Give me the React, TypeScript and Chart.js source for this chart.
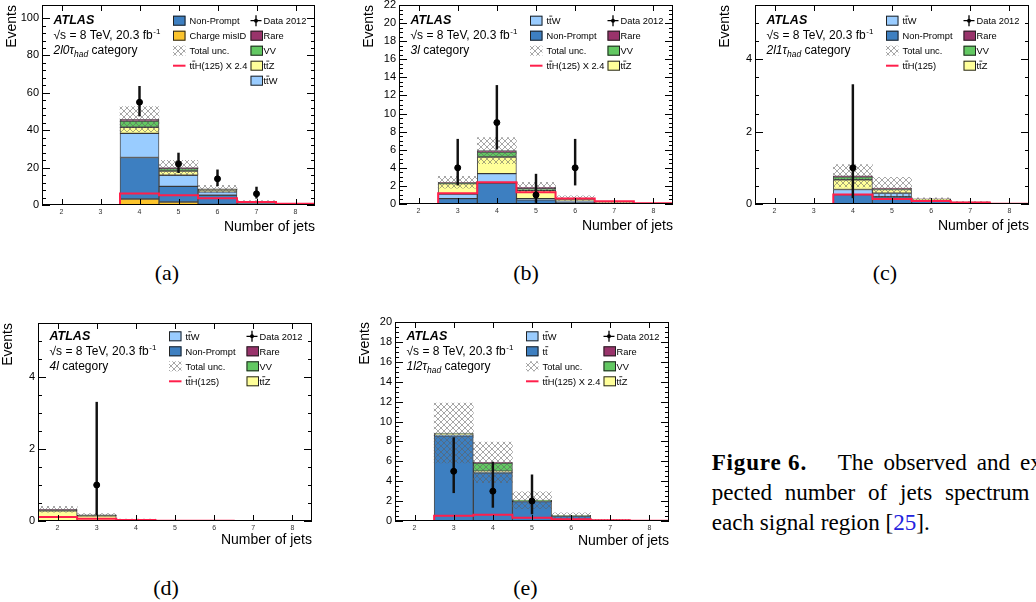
import React, { useEffect, useRef } from 'react';
import { Chart, registerables } from 'chart.js';

Chart.register(...registerables);

// ---------------- DATA ----------------
const BINS = ['2', '3', '4', '5', '6', '7', '8'];

// (a) 2l0tau_had
const aMisID = [0, 0, 3.2, 1.6, 0.3, 0.05, 0.02];
const aNonPrompt = [0, 0, 22.2, 8.4, 4.9, 1.0, 0.3];
const aTtW = [0, 0, 12.9, 5.9, 1.8, 0.4, 0.1];
const aTtZ = [0, 0, 3.3, 2.3, 0.9, 0.2, 0.05];
const aVV = [0, 0, 3.3, 1.3, 0.3, 0.1, 0.03];
const aRare = [0, 0, 1.0, 0.5, 0.4, 0.1, 0.03];
const aUnc = [0, 0, 6.7, 3.9, 1.9, 0.5, 0.2];
const aTtH = [0, 0, 6.1, 5.2, 3.6, 1.6, 0.7];
const aData = [0, 0, 55, 22, 14, 6, 0];
const aDataLo = [0, 0, 47.6, 17.3, 10.3, 3.6, 0];
const aDataHi = [0, 0, 63.5, 27.8, 18.8, 9.6, 0];

// (b) 3l
const bNonPrompt = [0, 0.6, 2.3, 0.45, 0.2, 0.05, 0.01];
const bTtW = [0, 0.5, 1.05, 0.15, 0.1, 0.03, 0.01];
const bTtZ = [0, 1.15, 1.85, 0.9, 0.25, 0.1, 0.02];
const bVV = [0, 0.1, 0.55, 0.2, 0.05, 0.02, 0.005];
const bRare = [0, 0.05, 0.15, 0.15, 0.05, 0.02, 0.005];
const bUnc = [0, 0.65, 1.45, 0.55, 0.25, 0.08, 0.02];
const bTtH = [0, 1.2, 2.4, 1.3, 0.6, 0.3, 0.07];
const bData = [0, 4, 9, 1, 4, 0, 0];
const bDataLo = [0, 2.09, 6.06, 0.17, 2.09, 0, 0];
const bDataHi = [0, 7.16, 13.11, 3.3, 7.16, 0, 0];

// (c) 2l1tau_had
const cNonPrompt = [0, 0, 0.26, 0.2, 0.08, 0.03, 0.005];
const cTtW = [0, 0, 0.14, 0.1, 0.03, 0.01, 0.003];
const cTtZ = [0, 0, 0.27, 0.1, 0.02, 0.01, 0.002];
const cVV = [0, 0, 0.08, 0.02, 0.005, 0.003, 0];
const cRare = [0, 0, 0.03, 0.02, 0.005, 0.003, 0];
const cUnc = [0, 0, 0.31, 0.3, 0.03, 0.01, 0];
const cTtH = [0, 0, 0.26, 0.14, 0.08, 0.04, 0.01];
const cData = [0, 0, 1, 0, 0, 0, 0];
const cDataLo = [0, 0, 0.17, 0, 0, 0, 0];
const cDataHi = [0, 0, 3.3, 0, 0, 0, 0];

// (d) 4l
const dNonPrompt = [0.005, 0.003, 0.001, 0, 0, 0, 0];
const dTtW = [0.005, 0.002, 0, 0, 0, 0, 0];
const dTtZ = [0.27, 0.14, 0.03, 0.008, 0.003, 0.001, 0];
const dVV = [0.005, 0.003, 0.001, 0, 0, 0, 0];
const dRare = [0.04, 0.025, 0.01, 0.003, 0.002, 0.001, 0];
const dUnc = [0.08, 0.03, 0.01, 0.003, 0, 0, 0];
const dTtH = [0.11, 0.065, 0.03, 0.01, 0.005, 0.002, 0.001];
const dData = [0, 1, 0, 0, 0, 0, 0];
const dDataLo = [0, 0.17, 0, 0, 0, 0, 0];
const dDataHi = [0, 3.3, 0, 0, 0, 0, 0];

// (e) 1l2tau_had
const eTtbar = [0, 8.55, 4.83, 1.95, 0.5, 0.08, 0.015];
const eTtW = [0, 0.05, 0.03, 0.02, 0.01, 0.005, 0];
const eTtZ = [0, 0.12, 0.14, 0.05, 0.02, 0.005, 0];
const eVV = [0, 0.07, 0.82, 0.05, 0.01, 0.005, 0];
const eRare = [0, 0.05, 0.07, 0.02, 0.005, 0.003, 0];
const eUnc = [0, 3.0, 2.05, 0.85, 0.28, 0.06, 0.01];
const eTtH = [0, 0.54, 0.63, 0.33, 0.17, 0.07, 0.02];
const eData = [0, 5, 3, 2, 0, 0, 0];
const eDataLo = [0, 2.84, 1.37, 0.71, 0, 0, 0];
const eDataHi = [0, 8.38, 5.92, 4.64, 0, 0, 0];

// ---------------- STYLE ----------------
const C_NP = '#3d7fc1';
const C_MISID = '#fcc42c';
const C_TTW = '#99ccff';
const C_TTZ = '#ffff99';
const C_VV = '#62c862';
const C_RARE = '#99336b';
const C_TTH = '#ff1f4b';
const SANS = '"Liberation Sans", Arial, Helvetica, sans-serif';
const SERIF = '"Liberation Serif", "Times New Roman", serif';
const TTW = 'tt\u0304W';
const TTZ = 'tt\u0304Z';
const TT = 'tt\u0304';
const TTH24 = 'tt\u0304H(125) X 2.4';
const TTH = 'tt\u0304H(125)';

type Comp = { label: string; color: string; values: number[] };
type Leg = { kind: 'box' | 'hatch' | 'line' | 'data'; label: string; color?: string };
type Seg = { t: string; s: 'i' | 'n' | 'sub' };
type PanelCfg = {
  L: number; T: number; R: number; B: number;
  ymax: number; major: number; minor: number;
  stack: Comp[]; unc: number[]; tth: number[];
  data: number[]; lo: number[]; hi: number[];
  leg1: Leg[]; leg2: Leg[]; cat: Seg[];
  r0: number; xtDy: number;
};

const PAD_L = 44, PAD_T = 8, PAD_R = 6, PAD_B = 32;

function makeHatch(): CanvasPattern | string {
  const c = document.createElement('canvas');
  c.width = 6; c.height = 6;
  const g = c.getContext('2d');
  if (!g) return 'rgba(150,150,150,0.4)';
  g.strokeStyle = 'rgba(95,95,95,0.55)';
  g.lineWidth = 1;
  g.beginPath();
  g.moveTo(0, 0); g.lineTo(6, 6);
  g.moveTo(6, 0); g.lineTo(0, 6);
  g.stroke();
  return g.createPattern(c, 'repeat') || 'rgba(150,150,150,0.4)';
}

const near = (v: number, step: number) => Math.abs(v / step - Math.round(v / step)) < 1e-6;

// draws a label, putting the macron of "t\u0304" by hand so it is always visible
function drawLabel(ctx: CanvasRenderingContext2D, label: string, x: number, y: number, size: number) {
  ctx.font = `${size}px ${SANS}`;
  const idx = label.indexOf('\u0304');
  if (idx < 0) {
    ctx.fillText(label, x, y);
    return;
  }
  const before = label.slice(0, idx);
  const after = label.slice(idx + 1);
  const plain = before + after;
  ctx.fillText(plain, x, y);
  const wPre = ctx.measureText(before.slice(0, -1)).width;
  const wT = ctx.measureText('t').width;
  ctx.save();
  ctx.strokeStyle = '#000';
  ctx.lineWidth = 0.8;
  ctx.beginPath();
  ctx.moveTo(x + wPre + 0.2, y - size * 0.86);
  ctx.lineTo(x + wPre + wT + 0.6, y - size * 0.86);
  ctx.stroke();
  ctx.restore();
}

function Panel({ cfg }: { cfg: PanelCfg }) {
  const ref = useRef<HTMLCanvasElement>(null);
  const W = cfg.R - cfg.L + PAD_L + PAD_R;
  const H = cfg.B - cfg.T + PAD_T + PAD_B;

  useEffect(() => {
    const canvas = ref.current;
    if (!canvas) return;
    const hatch = makeHatch();
    const n = BINS.length;
    const cum = new Array(n).fill(0);
    const stackSets: any[] = cfg.stack.map((comp, k) => {
      const data = comp.values.map((v, i) => {
        const lo = cum[i];
        cum[i] += v;
        return v > 0 ? [lo, cum[i]] : null;
      });
      return {
        type: 'bar', label: comp.label, data, xAxisID: 'x', yAxisID: 'y',
        backgroundColor: comp.color, borderColor: 'rgba(20,20,20,0.75)', borderWidth: 1,
        borderSkipped: false, grouped: false, barPercentage: 1, categoryPercentage: 1,
        order: 10 + k,
      };
    });
    const total = cum.slice();
    const uncSet = {
      type: 'bar', label: 'Total unc.', xAxisID: 'x', yAxisID: 'y',
      data: total.map((t, i) => (cfg.unc[i] > 0 ? [Math.max(0, t - cfg.unc[i]), t + cfg.unc[i]] : null)),
      backgroundColor: hatch, borderWidth: 0, grouped: false, barPercentage: 1, categoryPercentage: 1,
      order: 3,
    };
    const tthPts: { x: number; y: number }[] = [];
    cfg.tth.forEach((v, i) => {
      const c = Number(BINS[i]);
      tthPts.push({ x: c - 0.5, y: v }, { x: c + 0.5, y: v });
    });
    const tthSet = {
      type: 'line', label: 'ttH', data: tthPts, xAxisID: 'xl', yAxisID: 'y',
      borderColor: C_TTH, borderWidth: 2, pointRadius: 0, fill: false, tension: 0, order: 2,
    };
    const errSet = {
      type: 'bar', label: 'err', xAxisID: 'x', yAxisID: 'y',
      data: cfg.data.map((d, i) => (d > 0 ? [cfg.lo[i], cfg.hi[i]] : null)),
      backgroundColor: '#111', borderWidth: 0, barThickness: 1.8, grouped: false, order: 1,
    };
    const dataSet = {
      type: 'line', label: 'Data 2012', xAxisID: 'x', yAxisID: 'y',
      data: cfg.data.map((d) => (d > 0 ? d : null)),
      showLine: false, pointRadius: 3, pointBackgroundColor: '#000', pointBorderColor: '#000',
      borderColor: '#000', order: 0,
    };

    const decor = {
      id: 'atlasDecor',
      afterDraw(chart: any) {
        const ctx: CanvasRenderingContext2D = chart.ctx;
        const { left, right, top, bottom } = chart.chartArea;
        const ys = chart.scales.y;
        const xs = chart.scales.x;
        ctx.save();
        // frame
        ctx.strokeStyle = '#000';
        ctx.lineWidth = 1;
        ctx.strokeRect(left + 0.5, top + 0.5, right - left - 1, bottom - top - 1);
        // y ticks
        ctx.beginPath();
        ys.ticks.forEach((t: any) => {
          const v = t.value;
          if (!near(v, cfg.minor)) return;
          const len = near(v, cfg.major) ? 8 : 4;
          const y = Math.round(ys.getPixelForValue(v)) + 0.5;
          ctx.moveTo(left, y); ctx.lineTo(left + len, y);
          ctx.moveTo(right, y); ctx.lineTo(right - len, y);
        });
        // x ticks
        BINS.forEach((_, i) => {
          const x = Math.round(xs.getPixelForValue(i)) + 0.5;
          ctx.moveTo(x, bottom); ctx.lineTo(x, bottom - 6);
          ctx.moveTo(x, top); ctx.lineTo(x, top + 6);
        });
        ctx.stroke();

        // axis titles
        ctx.fillStyle = '#000';
        ctx.font = `14px ${SANS}`;
        ctx.textAlign = 'right';
        ctx.textBaseline = 'alphabetic';
        ctx.fillText('Number of jets', right, bottom + cfg.xtDy);
        ctx.save();
        ctx.translate(left - 29.5, top);
        ctx.rotate(-Math.PI / 2);
        ctx.textAlign = 'right';
        ctx.textBaseline = 'middle';
        ctx.fillText('Events', 0, 0);
        ctx.restore();

        // ATLAS label block
        const tx = left + 11.5;
        const r0 = top + cfg.r0;
        ctx.textAlign = 'left';
        ctx.textBaseline = 'alphabetic';
        ctx.font = `bold italic 12.5px ${SANS}`;
        ctx.fillText('ATLAS', tx, r0 + 3.3);
        ctx.font = `12px ${SANS}`;
        const e1 = '\u221As = 8 TeV, 20.3 fb';
        ctx.fillText(e1, tx, r0 + 18.3);
        const w1 = ctx.measureText(e1).width;
        ctx.font = `8px ${SANS}`;
        ctx.fillText('-1', tx + w1 + 0.5, r0 + 13.3);
        let cx = tx;
        const by = r0 + 33.6;
        cfg.cat.forEach((sg) => {
          if (sg.s === 'i') ctx.font = `italic 12px ${SANS}`;
          else if (sg.s === 'sub') ctx.font = `italic 8.5px ${SANS}`;
          else ctx.font = `12px ${SANS}`;
          ctx.fillText(sg.t, cx, sg.s === 'sub' ? by + 3 : by);
          cx += ctx.measureText(sg.t).width;
        });

        // legend
        const drawLeg = (items: Leg[], bx: number, txx: number) => {
          items.forEach((it, k) => {
            const cy = r0 + 15 * k;
            if (it.kind === 'box') {
              ctx.fillStyle = it.color || '#000';
              ctx.fillRect(bx, cy - 5, 12.5, 10);
              ctx.strokeStyle = '#222';
              ctx.lineWidth = 1;
              ctx.strokeRect(bx + 0.5, cy - 4.5, 11.5, 9);
            } else if (it.kind === 'hatch') {
              ctx.fillStyle = hatch as any;
              ctx.fillRect(bx, cy - 5, 12.5, 10);
            } else if (it.kind === 'line') {
              ctx.strokeStyle = C_TTH;
              ctx.lineWidth = 2;
              ctx.beginPath();
              ctx.moveTo(bx, cy); ctx.lineTo(bx + 12.5, cy);
              ctx.stroke();
            } else {
              ctx.strokeStyle = '#000';
              ctx.lineWidth = 1.3;
              ctx.beginPath();
              ctx.moveTo(bx, cy); ctx.lineTo(bx + 11, cy);
              ctx.moveTo(bx + 5.5, cy - 5.5); ctx.lineTo(bx + 5.5, cy + 5.5);
              ctx.stroke();
              ctx.fillStyle = '#000';
              ctx.beginPath();
              ctx.arc(bx + 5.5, cy, 2, 0, Math.PI * 2);
              ctx.fill();
            }
            ctx.fillStyle = '#000';
            drawLabel(ctx, it.label, txx, cy + 3.4, 9.3);
          });
        };
        drawLeg(cfg.leg1, left + 131, left + 147.5);
        drawLeg(cfg.leg2, left + 208.5, left + 221.5);
        ctx.restore();
      },
    };

    const chart = new Chart(canvas, {
      type: 'bar',
      data: { labels: BINS, datasets: [dataSet, errSet, tthSet, uncSet, ...stackSets] as any },
      options: {
        animation: false,
        responsive: false,
        devicePixelRatio: 1,
        layout: { padding: { left: 0, top: PAD_T, right: PAD_R, bottom: 0 } },
        plugins: { legend: { display: false }, tooltip: { enabled: false }, title: { display: false } },
        scales: {
          x: {
            type: 'category', labels: BINS, offset: true, position: 'bottom',
            grid: { display: false, drawTicks: false }, border: { display: false },
            ticks: { font: { size: 7, family: SANS }, color: '#333', padding: 2.5, maxRotation: 0, autoSkip: false },
            afterFit: (s: any) => { s.height = PAD_B; s.paddingLeft = 0; s.paddingRight = 0; },
          },
          xl: {
            type: 'linear', min: 1.5, max: 8.5, display: false, offset: false, position: 'bottom',
            grid: { offset: false },
          },
          y: {
            type: 'linear', min: 0, max: cfg.ymax, position: 'left',
            grid: { display: false, drawTicks: false }, border: { display: false },
            ticks: {
              stepSize: cfg.minor, autoSkip: false, maxTicksLimit: 1000,
              callback: (v: any) => (near(Number(v), cfg.major) ? String(Math.round(Number(v))) : ''),
              font: { size: 11, family: SANS }, color: '#000', padding: 3,
            },
            afterFit: (s: any) => { s.width = PAD_L; s.paddingTop = 0; s.paddingBottom = 0; },
          },
        },
      } as any,
      plugins: [decor],
    });
    return () => chart.destroy();
  }, [cfg]);

  return (
    <canvas
      ref={ref}
      width={W}
      height={H}
      style={{ position: 'absolute', left: cfg.L - PAD_L, top: cfg.T - PAD_T, width: W, height: H }}
    />
  );
}

const LEG2: Leg[] = [
  { kind: 'data', label: 'Data 2012' },
  { kind: 'box', label: 'Rare', color: C_RARE },
  { kind: 'box', label: 'VV', color: C_VV },
  { kind: 'box', label: TTZ, color: C_TTZ },
];

const PANELS: PanelCfg[] = [
  {
    L: 42, T: 5, R: 315, B: 205, ymax: 107, major: 20, minor: 4,
    stack: [
      { label: 'Charge misID', color: C_MISID, values: aMisID },
      { label: 'Non-Prompt', color: C_NP, values: aNonPrompt },
      { label: TTW, color: C_TTW, values: aTtW },
      { label: TTZ, color: C_TTZ, values: aTtZ },
      { label: 'VV', color: C_VV, values: aVV },
      { label: 'Rare', color: C_RARE, values: aRare },
    ],
    unc: aUnc, tth: aTtH, data: aData, lo: aDataLo, hi: aDataHi,
    leg1: [
      { kind: 'box', label: 'Non-Prompt', color: C_NP },
      { kind: 'box', label: 'Charge misID', color: C_MISID },
      { kind: 'hatch', label: 'Total unc.' },
      { kind: 'line', label: TTH24 },
    ],
    leg2: [...LEG2, { kind: 'box', label: TTW, color: C_TTW }],
    cat: [{ t: '2l0\u03C4', s: 'i' }, { t: 'had', s: 'sub' }, { t: ' category', s: 'n' }],
    r0: 15.7, xtDy: 26,
  },
  {
    L: 399, T: 5, R: 673, B: 204, ymax: 22, major: 2, minor: 0.5,
    stack: [
      { label: 'Non-Prompt', color: C_NP, values: bNonPrompt },
      { label: TTW, color: C_TTW, values: bTtW },
      { label: TTZ, color: C_TTZ, values: bTtZ },
      { label: 'VV', color: C_VV, values: bVV },
      { label: 'Rare', color: C_RARE, values: bRare },
    ],
    unc: bUnc, tth: bTtH, data: bData, lo: bDataLo, hi: bDataHi,
    leg1: [
      { kind: 'box', label: TTW, color: C_TTW },
      { kind: 'box', label: 'Non-Prompt', color: C_NP },
      { kind: 'hatch', label: 'Total unc.' },
      { kind: 'line', label: TTH24 },
    ],
    leg2: LEG2,
    cat: [{ t: '3l', s: 'i' }, { t: ' category', s: 'n' }],
    r0: 15.7, xtDy: 26,
  },
  {
    L: 755, T: 5, R: 1029, B: 204, ymax: 5.5, major: 2, minor: 0.5,
    stack: [
      { label: 'Non-Prompt', color: C_NP, values: cNonPrompt },
      { label: TTW, color: C_TTW, values: cTtW },
      { label: TTZ, color: C_TTZ, values: cTtZ },
      { label: 'VV', color: C_VV, values: cVV },
      { label: 'Rare', color: C_RARE, values: cRare },
    ],
    unc: cUnc, tth: cTtH, data: cData, lo: cDataLo, hi: cDataHi,
    leg1: [
      { kind: 'box', label: TTW, color: C_TTW },
      { kind: 'box', label: 'Non-Prompt', color: C_NP },
      { kind: 'hatch', label: 'Total unc.' },
      { kind: 'line', label: TTH },
    ],
    leg2: LEG2,
    cat: [{ t: '2l1\u03C4', s: 'i' }, { t: 'had', s: 'sub' }, { t: ' category', s: 'n' }],
    r0: 15.7, xtDy: 26,
  },
  {
    L: 38, T: 323, R: 312, B: 521, ymax: 5.5, major: 2, minor: 0.5,
    stack: [
      { label: 'Non-Prompt', color: C_NP, values: dNonPrompt },
      { label: TTW, color: C_TTW, values: dTtW },
      { label: TTZ, color: C_TTZ, values: dTtZ },
      { label: 'VV', color: C_VV, values: dVV },
      { label: 'Rare', color: C_RARE, values: dRare },
    ],
    unc: dUnc, tth: dTtH, data: dData, lo: dDataLo, hi: dDataHi,
    leg1: [
      { kind: 'box', label: TTW, color: C_TTW },
      { kind: 'box', label: 'Non-Prompt', color: C_NP },
      { kind: 'hatch', label: 'Total unc.' },
      { kind: 'line', label: TTH },
    ],
    leg2: LEG2,
    cat: [{ t: '4l', s: 'i' }, { t: ' category', s: 'n' }],
    r0: 13.3, xtDy: 23,
  },
  {
    L: 395, T: 322, R: 669, B: 521, ymax: 20, major: 2, minor: 0.5,
    stack: [
      { label: TT, color: C_NP, values: eTtbar },
      { label: TTW, color: C_TTW, values: eTtW },
      { label: TTZ, color: C_TTZ, values: eTtZ },
      { label: 'VV', color: C_VV, values: eVV },
      { label: 'Rare', color: C_RARE, values: eRare },
    ],
    unc: eUnc, tth: eTtH, data: eData, lo: eDataLo, hi: eDataHi,
    leg1: [
      { kind: 'box', label: TTW, color: C_TTW },
      { kind: 'box', label: TT, color: C_NP },
      { kind: 'hatch', label: 'Total unc.' },
      { kind: 'line', label: TTH24 },
    ],
    leg2: LEG2,
    cat: [{ t: '1l2\u03C4', s: 'i' }, { t: 'had', s: 'sub' }, { t: ' category', s: 'n' }],
    r0: 14.3, xtDy: 24,
  },
];

const SUB_LABELS = [
  { t: '(a)', x: 167, y: 280 },
  { t: '(b)', x: 526, y: 280 },
  { t: '(c)', x: 885, y: 280 },
  { t: '(d)', x: 166, y: 595 },
  { t: '(e)', x: 525.5, y: 595 },
];

const CAP_FS = 23.1;
const capTop = (baseline: number) => baseline - 19.35;

export default function App() {
  const capBase: React.CSSProperties = {
    position: 'absolute', fontFamily: SERIF, fontSize: CAP_FS, lineHeight: `${CAP_FS}px`,
    whiteSpace: 'nowrap', color: '#000',
  };
  return (
    <div style={{ position: 'fixed', left: 0, top: 0, width: 1036, height: 602, overflow: 'hidden', background: '#fff' }}>
      {PANELS.map((p, i) => (
        <Panel key={i} cfg={p} />
      ))}
      {SUB_LABELS.map((s) => (
        <div
          key={s.t}
          style={{
            position: 'absolute', left: s.x - 30, width: 60, top: s.y - 18.5, height: 22,
            lineHeight: '22px', fontSize: 22, fontFamily: SERIF, textAlign: 'center', color: '#000',
          }}
        >
          {s.t}
        </div>
      ))}
      <div style={{ ...capBase, left: 711.7, top: capTop(470), fontWeight: 'bold', letterSpacing: 0.8 }}>
        Figure 6.
      </div>
      <div style={{ ...capBase, left: 837.7, top: capTop(470), wordSpacing: 4.1 }}>
        The observed and ex-
      </div>
      <div style={{ ...capBase, left: 711.7, top: capTop(500.5), wordSpacing: 7 }}>
        pected number of jets spectrum in
      </div>
      <div style={{ ...capBase, left: 711.7, top: capTop(530) }}>
        each signal region [<span style={{ color: '#2222dd' }}>25</span>].
      </div>
    </div>
  );
}
